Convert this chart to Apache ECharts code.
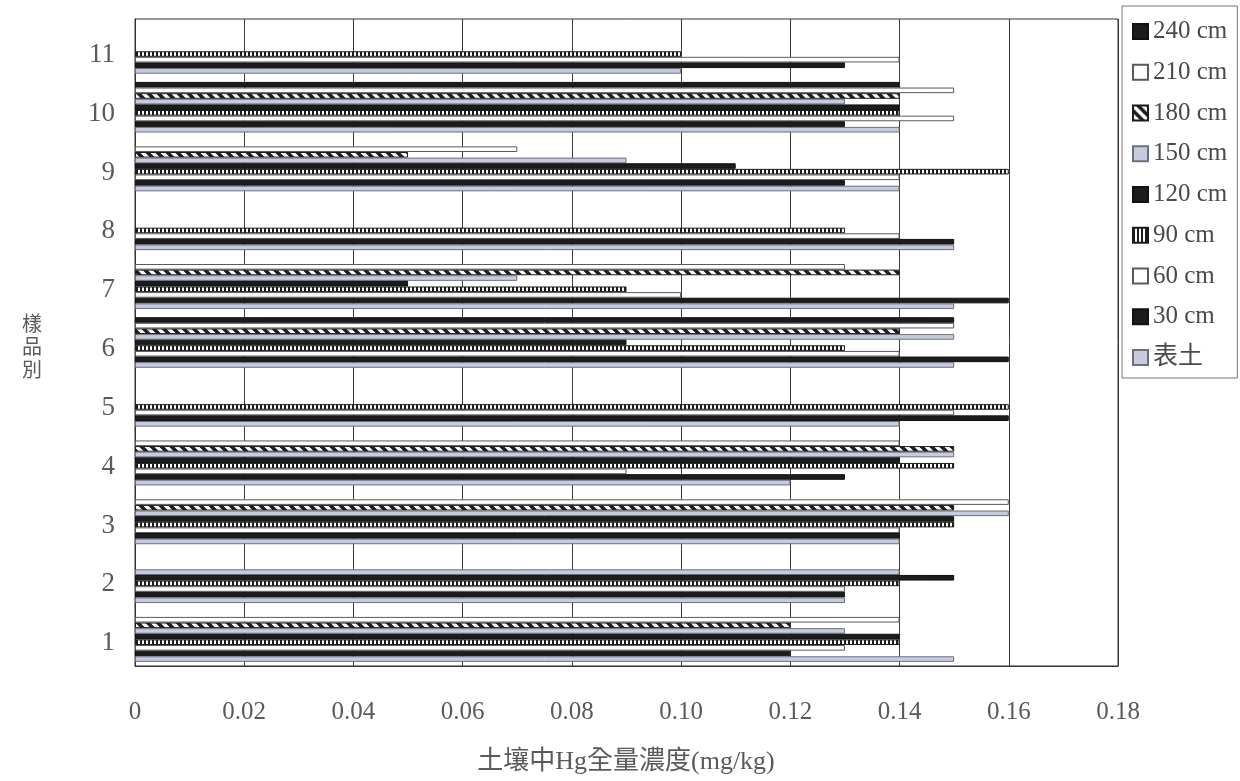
<!DOCTYPE html>
<html>
<head>
<meta charset="utf-8">
<title>土壤中Hg全量濃度</title>
<script src="https://cdn.jsdelivr.net/npm/echarts@6/dist/echarts.min.js"></script>
<style>
  html, body { margin: 0; padding: 0; background: #ffffff; }
  #chart { width: 1240px; height: 781px; }
</style>
</head>
<body>
<div id="chart"></div>
<script>
// Sample numbers (bottom to top on the category axis)
const categories = ['1', '2', '3', '4', '5', '6', '7', '8', '9', '10', '11'];

// Hg total concentration (mg/kg) per depth; null = not measured
const d240 = [null, null, null, null, null, 0.15, null, null, null, 0.14, null];
const d210 = [0.14, null, 0.16, 0.14, null, 0.15, 0.13, null, 0.07, 0.15, null];
const d180 = [0.12, null, 0.15, 0.15, null, 0.14, 0.14, null, 0.05, 0.14, null];
const d150 = [0.13, 0.14, 0.16, 0.15, null, 0.15, 0.07, null, 0.09, 0.13, null];
const d120 = [0.14, 0.15, 0.15, 0.14, null, 0.09, 0.05, null, 0.11, 0.14, null];
const d90  = [0.14, 0.14, 0.15, 0.15, 0.16, 0.13, 0.09, 0.13, 0.16, 0.14, 0.10];
const d60  = [0.13, 0.13, 0.14, 0.09, 0.15, 0.14, 0.10, 0.14, 0.14, 0.15, 0.14];
const d30  = [0.12, 0.13, 0.14, 0.13, 0.16, 0.16, 0.16, 0.15, 0.13, 0.13, 0.13];
const dTop = [0.15, 0.13, 0.14, 0.12, 0.14, 0.15, 0.15, 0.15, 0.14, 0.14, 0.10];

const seriesNames = ['240 cm', '210 cm', '180 cm', '150 cm', '120 cm', '90 cm', '60 cm', '30 cm', '表土'];
const seriesValues = [d240, d210, d180, d150, d120, d90, d60, d30, dTop];

// x axis range and tick spacing
const xMin = 0;
const xMax = 0.18;
const xStep = 0.02;

// ---- fill patterns ----
function verticalStripes() {
  const c = document.createElement('canvas');
  c.width = 4; c.height = 4;
  const g = c.getContext('2d');
  g.fillStyle = '#1c1c1c';
  g.fillRect(0, 0, 4, 4);
  g.fillStyle = '#ffffff';
  g.fillRect(2, 0, 2, 4);
  return c;
}
function diagonalStripes() {
  const s = 10;
  const c = document.createElement('canvas');
  c.width = s; c.height = s;
  const g = c.getContext('2d');
  g.fillStyle = '#1c1c1c';
  g.fillRect(0, 0, s, s);
  g.strokeStyle = '#ffffff';
  g.lineWidth = 3.5;
  for (let k = -1; k <= 1; k++) {
    g.beginPath();
    g.moveTo(-2, -2 + k * s);
    g.lineTo(s + 2, s + 2 + k * s);
    g.stroke();
  }
  return c;
}

const BLACK = { color: '#1c1c1c', borderColor: '#111111' };
const WHITE = { color: '#ffffff', borderColor: '#5a5a5a' };
const LIGHT = { color: '#c6ccdd', borderColor: '#6b707c' };
const STRIPE = { color: { image: verticalStripes(), repeat: 'repeat' }, borderColor: '#1c1c1c' };
const DIAG = { color: { image: diagonalStripes(), repeat: 'repeat' }, borderColor: '#1c1c1c' };

const styles = [BLACK, WHITE, DIAG, LIGHT, BLACK, STRIPE, WHITE, BLACK, LIGHT];

const series = seriesNames.map((name, i) => ({
  name: name,
  type: 'bar',
  data: seriesValues[i].map(v => (v === null ? '-' : v)),
  barGap: '0%',
  barCategoryGap: '14%',
  itemStyle: Object.assign({ borderWidth: 1 }, styles[i]),
  emphasis: { disabled: true },
  animation: false
}));

const chart = echarts.init(document.getElementById('chart'), null, { renderer: 'canvas' });

chart.setOption({
  backgroundColor: '#ffffff',
  animation: false,
  grid: {
    left: 135,
    right: 122,
    top: 19,
    bottom: 115,
    show: true,
    borderColor: '#333333',
    borderWidth: 1,
    backgroundColor: 'transparent'
  },
  legend: {
    data: seriesNames,
    orient: 'vertical',
    left: 1122,
    top: 6,
    padding: [13, 10, 8, 10],
    itemWidth: 15,
    itemHeight: 15,
    itemGap: 15.75,
    borderColor: '#777777',
    borderWidth: 1,
    icon: 'rect',
    selectedMode: false,
    textStyle: {
      fontFamily: '"Liberation Serif", "Noto Sans CJK TC", serif',
      fontSize: 25,
      lineHeight: 25,
      color: '#4a4a4a'
    }
  },
  xAxis: {
    type: 'value',
    min: xMin,
    max: xMax,
    interval: xStep,
    axisLine: { show: true, lineStyle: { color: '#333333', width: 1 } },
    axisTick: { show: false },
    splitLine: { show: true, lineStyle: { color: '#3a3a3a', width: 1 } },
    axisLabel: {
      fontFamily: '"Liberation Serif", serif',
      fontSize: 25,
      color: '#5a5a5a',
      margin: 34,
      formatter: v => (v === 0 ? '0' : v.toFixed(2))
    }
  },
  yAxis: {
    type: 'category',
    data: categories,
    axisLine: { show: true, lineStyle: { color: '#333333', width: 1 } },
    axisTick: { show: false },
    splitLine: { show: false },
    axisLabel: {
      fontFamily: '"Liberation Serif", serif',
      fontSize: 27,
      color: '#5a5a5a',
      margin: 20,
      verticalAlign: 'top',
      lineHeight: 13
    }
  },
  graphic: [
    {
      type: 'text',
      x: 32,
      y: 346,
      style: {
        text: '樣\n品\n別',
        font: '20px "Noto Sans CJK TC"',
        lineHeight: 23,
        fill: '#5a5a5a',
        textAlign: 'center',
        textVerticalAlign: 'middle'
      }
    },
    {
      type: 'text',
      x: 626,
      y: 762,
      style: {
        text: '土壤中Hg全量濃度(mg/kg)',
        font: '26px "Liberation Serif", "Noto Sans CJK TC"',
        fill: '#5a5a5a',
        textAlign: 'center',
        textVerticalAlign: 'middle'
      }
    }
  ],
  series: series
});
</script>
</body>
</html>
